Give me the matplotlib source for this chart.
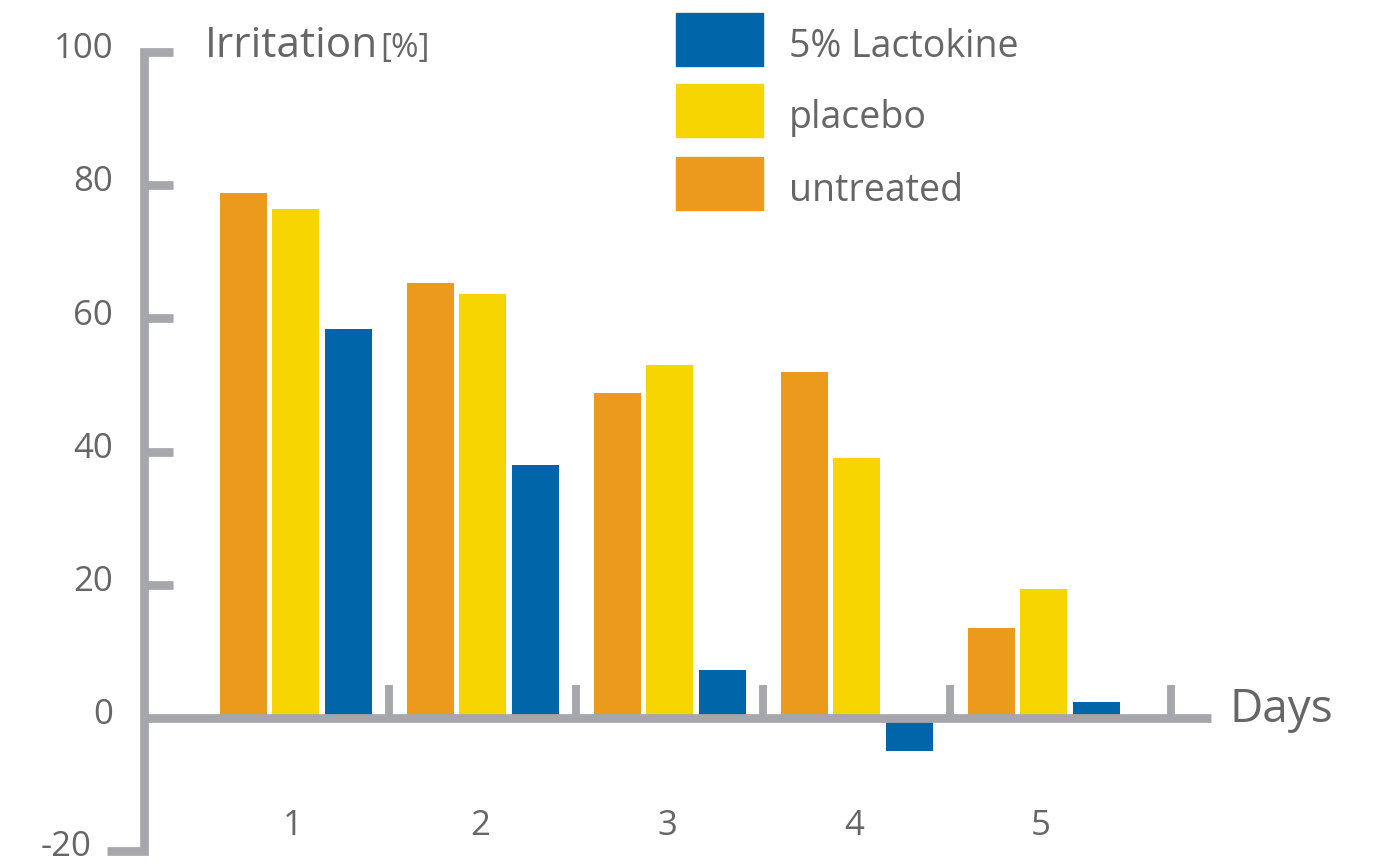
import matplotlib
matplotlib.use("Agg")
import matplotlib.pyplot as plt
from matplotlib.patches import Rectangle
import numpy as np

# ---- data ----
days = [1, 2, 3, 4, 5]
day_labels = ["1", "2", "3", "4", "5"]
untreated = [78.8, 65.3, 48.8, 52.0, 13.5]
placebo = [76.4, 63.6, 53.0, 39.0, 19.4]
lactokine = [58.4, 38.0, 7.2, -4.9, 2.4]
y_ticks = [100, 80, 60, 40, 20, 0, -20]
series_names = ["5% Lactokine", "placebo", "untreated"]

# ---- style ----
C_BLUE = "#0066A9"
C_YEL = "#F7D500"
C_ORA = "#EC9A1B"
C_AX = "#A6A7AC"
C_TXT = "#666666"
FONT = ["Open Sans", "DejaVu Sans"]
plt.rcParams["font.family"] = FONT

W, H = 1376, 863
fig = plt.figure(figsize=(W / 100, H / 100), dpi=100)
ax = fig.add_axes([0, 0, 1, 1])
ax.set_xlim(-0.5837, 6.7785)
ax.set_ylim(-21.77, 107.8)
ax.axis("off")

x = np.array(days, dtype=float)
bw = 0.2515
step = 0.281
ax.bar(x - step, untreated, bw, color=C_ORA, zorder=2)
ax.bar(x, placebo, bw, color=C_YEL, zorder=2)
ax.bar(x + step, lactokine, bw, color=C_BLUE, zorder=2)

lw = 6.3
axis_x = 0.187
stub_r = axis_x + 0.155
stub_l = -0.011
# y axis with top and bottom stubs
ax.plot([stub_r, axis_x, axis_x, stub_l], [100, 100, -20, -20], color=C_AX,
        lw=lw, solid_joinstyle="miter", solid_capstyle="butt", zorder=3,
        clip_on=False)
for t in [80, 60, 40, 20]:
    ax.plot([axis_x, stub_r], [t, t], color=C_AX, lw=lw,
            solid_capstyle="butt", zorder=3)
# x axis
ax.plot([axis_x, 5.896], [0, 0], color=C_AX, lw=lw, solid_capstyle="butt", zorder=3)
for s in [1.5, 2.5, 3.5, 4.5, 5.68]:
    ax.plot([s, s], [0, 5.0], color=C_AX, lw=lw * 0.9, solid_capstyle="butt", zorder=3)

# y tick labels
for t in y_ticks:
    if t == -20:
        ax.text(-0.0915, -19.4, str(t), ha="right", va="center", fontsize=25, color=C_TXT)
    else:
        ax.text(0.021, t + 0.4, str(t), ha="right", va="center", fontsize=25, color=C_TXT)

# day labels
for d, lab in zip(days, day_labels):
    ax.text(d - 0.015, -16.2, lab, ha="center", va="center", fontsize=25, color=C_TXT)

# axis titles
ax.text(0.515, 99.25, "Irritation", ha="left", va="baseline", fontsize=30.5, color=C_TXT)
ax.text(1.45, 99.25, "[%]", ha="left", va="baseline", fontsize=24, color=C_TXT)
ax.text(5.996, -0.6, "Days", ha="left", va="baseline", fontsize=33, color=C_TXT)

# legend (manual)
leg_colors = [C_BLUE, C_YEL, C_ORA]
leg_tops = [13, 84, 157]
leg_base = [57, 128, 201]
for name, col, top, base in zip(series_names, leg_colors, leg_tops, leg_base):
    fig.patches.append(Rectangle((676 / W, 1 - (top + 53) / H), 87 / W, 53 / H,
                                 transform=fig.transFigure, color=col, zorder=3))
    fig.text(789 / W, 1 - base / H, name, ha="left", va="baseline",
             fontsize=27, color=C_TXT)

fig.savefig("out.png", dpi=100)
